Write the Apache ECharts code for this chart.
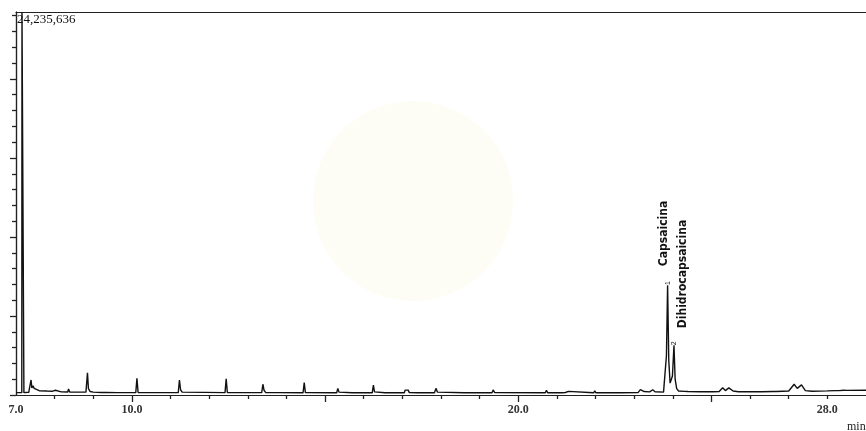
<!DOCTYPE html>
<html>
<head>
<meta charset="utf-8">
<style>
  html, body { margin: 0; padding: 0; background: #fff; }
  #chart { width: 866px; height: 431px; }
</style>
<script src="https://cdn.jsdelivr.net/npm/echarts@6/dist/echarts.min.js"></script>
</head>
<body>
<div id="chart"></div>
<script>
// 保留时间 (min)
const retentionMin = [
  7.0, 7.15, 7.155, 7.2, 7.205, 7.33, 7.37, 7.39, 7.41, 7.44, 7.47, 7.52, 7.6, 7.8, 7.95,
  8.0, 8.02, 8.05, 8.17, 8.19, 8.22, 8.34, 8.36, 8.39, 8.6, 8.81, 8.85, 8.875, 8.92,
  9.0, 9.2, 9.22, 9.25, 9.33, 9.35, 9.38, 9.63, 9.65, 9.68,
  10.1, 10.13, 10.16, 10.27, 10.29, 10.32, 11.2, 11.23, 11.26, 11.3, 11.35,
  12.41, 12.44, 12.47, 13.36, 13.39, 13.42, 13.46, 13.8, 13.82, 13.85,
  14.43, 14.46, 14.49, 15.3, 15.33, 15.36, 15.4, 15.7, 15.72, 15.74, 15.83, 15.85, 15.87,
  15.94, 15.96, 15.98, 16.22, 16.25, 16.28, 16.32, 16.55, 16.57, 16.6, 16.7, 16.72, 16.74,
  17.05, 17.07, 17.11, 17.15, 17.18, 17.4, 17.45, 17.5, 17.83, 17.87, 17.91, 17.95,
  18.6, 18.62, 18.65, 19.32, 19.35, 19.39, 20.7, 20.73, 20.76,
  21.14, 21.17, 21.22, 21.3, 21.34, 21.95, 21.98, 22.01, 22.64, 22.66, 22.69,
  23.1, 23.16, 23.2, 23.26, 23.4, 23.48, 23.54, 23.76, 23.8, 23.835, 23.865, 23.895,
  23.93, 23.96, 23.99, 24.03, 24.06, 24.1, 24.15, 24.3, 24.34, 24.39,
  24.7, 24.75, 24.8, 24.95, 25.0, 25.05, 25.2, 25.29, 25.36, 25.45, 25.49, 25.56, 25.7,
  26.2, 26.25, 26.3, 26.6, 26.64, 26.68, 27.0, 27.14, 27.22, 27.33, 27.43, 27.6,
  28.0, 28.2, 28.24, 28.3, 28.42, 28.45, 28.5, 29.0
];

// 信号强度 (千计数)
const intensityK = [
  150, 150, 24235.636, 24235.636, 150, 170, 700, 950, 450, 580, 420, 320, 270, 250, 240,
  230, 300, 210, 200, 260, 200, 190, 380, 190, 180, 180, 1400, 400, 220,
  180, 160, 230, 160, 160, 240, 160, 150, 260, 150,
  150, 1060, 160, 150, 230, 150, 150, 950, 330, 180, 150,
  150, 1020, 160, 150, 680, 300, 160, 150, 270, 150,
  140, 780, 150, 140, 420, 180, 140, 140, 200, 140, 140, 200, 140,
  140, 200, 140, 140, 620, 200, 140, 140, 190, 140, 140, 190, 140,
  140, 310, 250, 310, 150, 140, 180, 140, 140, 420, 180, 140,
  140, 250, 140, 140, 320, 150, 140, 300, 140,
  140, 230, 160, 230, 140, 140, 270, 140, 140, 220, 140,
  150, 340, 360, 220, 200, 330, 210, 180, 250, 2500, 6950, 2200,
  750, 650, 1200, 3150, 1000, 400, 250, 230, 320, 220,
  210, 240, 210, 210, 240, 210, 220, 460, 280, 450, 530, 250, 210,
  210, 240, 210, 220, 250, 220, 250, 680, 420, 640, 280, 240,
  260, 280, 370, 280, 300, 360, 290, 300
];

// 坐标轴刻度
const xLabelValues = [7, 10, 20, 28];
const xMajorTicks = [10, 15, 20, 25];
const xMinorTicks = [8, 9, 11, 12, 13, 14, 16, 17, 18, 19, 21, 22, 23, 24, 26, 27, 28];
const yMajorTicks = [0, 5000, 10000, 15000, 20000];
const yMinorTicks = [1000, 2000, 3000, 4000, 6000, 7000, 8000, 9000, 11000, 12000, 13000, 14000,
  16000, 17000, 18000, 19000, 21000, 22000, 23000, 24000];

// 峰标注
const peakNames = ['Capsaicina', 'Dihidrocapsaicina'];
const peakNumbers = ['1', '2'];
const peakTimes = [23.865, 24.03];
const peakTops = [6950, 3150];

const maxLabel = '24,235,636';
const yMax = 24235.636;

const chartDom = document.getElementById('chart');
const chart = echarts.init(chartDom);

const axisColor = '#222';
const serif = 'Liberation Serif, Times New Roman, serif';

const xBase = {
  type: 'value',
  min: 7,
  max: 29,
  position: 'bottom',
  splitLine: { show: false },
  axisLine: { show: true, onZero: false, lineStyle: { color: axisColor, width: 1.2 } }
};

const yBase = {
  type: 'value',
  min: 0,
  max: yMax,
  position: 'left',
  splitLine: { show: false },
  axisLabel: { show: false },
  axisLine: { show: true, onZero: false, lineStyle: { color: axisColor, width: 1.2 } }
};

const option = {
  animation: false,
  backgroundColor: '#fff',
  grid: { left: 16, right: 0, top: 12, bottom: 36 },
  xAxis: [
    Object.assign({}, xBase, {
      axisTick: { show: true, customValues: xMajorTicks, length: 7, lineStyle: { color: axisColor, width: 1.3 } },
      axisLabel: {
        show: true,
        customValues: xLabelValues,
        margin: 9,
        fontFamily: serif,
        fontSize: 12,
        fontWeight: 'bold',
        color: '#333',
        formatter: function (v) { return v.toFixed(1); }
      }
    }),
    Object.assign({}, xBase, {
      axisTick: { show: true, customValues: xMinorTicks, length: 4, lineStyle: { color: axisColor, width: 1.3 } },
      axisLabel: { show: false }
    }),
    Object.assign({}, xBase, {
      position: 'top',
      axisTick: { show: false },
      axisLabel: { show: false }
    })
  ],
  yAxis: [
    Object.assign({}, yBase, {
      axisTick: { show: true, customValues: yMajorTicks, length: 6, lineStyle: { color: axisColor, width: 1.3 } }
    }),
    Object.assign({}, yBase, {
      axisTick: { show: true, customValues: yMinorTicks, length: 4, lineStyle: { color: axisColor, width: 1.3 } }
    })
  ],
  series: [
    {
      type: 'line',
      xAxisIndex: 0,
      yAxisIndex: 0,
      data: retentionMin.map((t, i) => [t, intensityK[i]]),
      showSymbol: false,
      symbol: 'none',
      sampling: null,
      lineStyle: { color: '#111', width: 1.4 },
      z: 3
    }
  ]
};

chart.setOption(option);

// 水印、标注等
const graphics = [
  {
    type: 'circle',
    shape: { cx: 413, cy: 201, r: 100 },
    style: { fill: '#fdfdf5' },
    z: -10,
    silent: true
  },
  {
    type: 'text',
    x: 17,
    y: 13,
    style: { text: maxLabel, font: '13px ' + serif, fill: '#111', align: 'left', verticalAlign: 'top' }
  },
  {
    type: 'text',
    x: 847,
    y: 421,
    style: { text: 'min', font: '12px ' + serif, fill: '#222', align: 'left', verticalAlign: 'top' }
  }
];

const nameOffsets = [[-4, -19], [9, -17]];
peakTimes.forEach(function (t, i) {
  const p = chart.convertToPixel({ xAxisIndex: 0, yAxisIndex: 0 }, [t, peakTops[i]]);
  graphics.push({
    type: 'text',
    x: p[0] + nameOffsets[i][0],
    y: p[1] + nameOffsets[i][1],
    rotation: Math.PI / 2,
    style: {
      text: peakNames[i],
      font: 'bold 12px "Liberation Sans Narrow", "DejaVu Sans Condensed", sans-serif',
      fill: '#111',
      align: 'left',
      verticalAlign: 'middle'
    }
  });
  graphics.push({
    type: 'text',
    x: p[0] + 0.5,
    y: p[1] - 2,
    rotation: Math.PI / 2,
    style: {
      text: peakNumbers[i],
      font: '7px "Liberation Sans Narrow", sans-serif',
      fill: '#111',
      align: 'center',
      verticalAlign: 'middle'
    }
  });
});

chart.setOption({ graphic: graphics });

window.addEventListener('resize', function () {
  chart.resize();
});
</script>
</body>
</html>
